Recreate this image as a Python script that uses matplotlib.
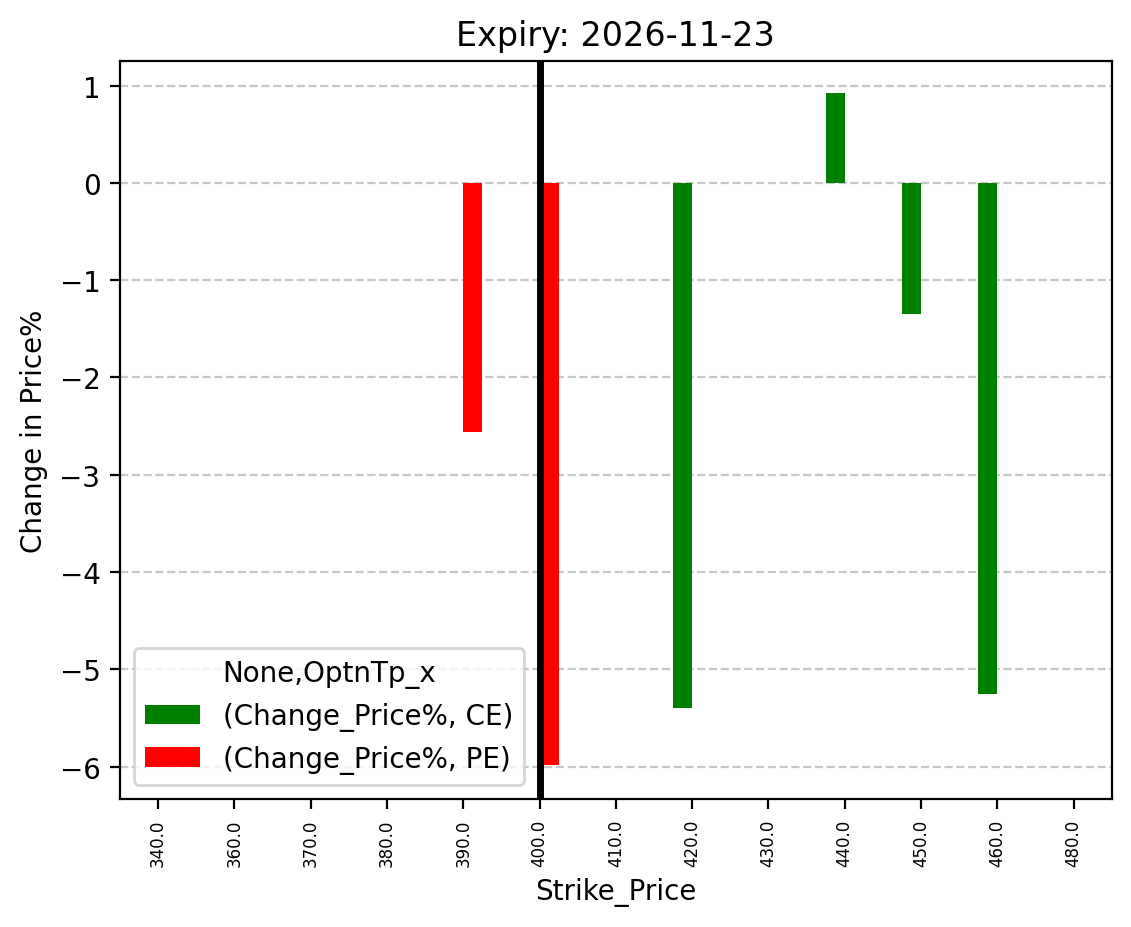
import numpy as np
import matplotlib
matplotlib.use("Agg")
import matplotlib.pyplot as plt

strikes = [340.0, 360.0, 370.0, 380.0, 390.0, 400.0, 410.0, 420.0, 430.0, 440.0, 450.0, 460.0, 480.0]
ce = [np.nan]*7 + [-5.4, np.nan, 0.92, -1.35, -5.25, np.nan]
pe = [np.nan]*4 + [-2.56, -5.98] + [np.nan]*7
spot_index = 5

fig, ax = plt.subplots(figsize=(5.655, 4.64), dpi=200)
x = np.arange(len(strikes))
w = 0.25
ax.bar(x - w/2, ce, width=w, color='green', label='(Change_Price%, CE)')
ax.bar(x + w/2, pe, width=w, color='red', label='(Change_Price%, PE)')
ax.set_xlim(-0.5, len(strikes) - 0.5)
ax.set_ylim(-6.33, 1.25)
ax.set_xticks(x)
ax.set_xticklabels([str(s) for s in strikes], rotation=90, fontsize=6)
ax.axvline(spot_index, color='black', linewidth=2.5)
ax.grid(axis='y', linestyle='--', alpha=0.7)
ax.set_axisbelow(True)
ax.set_xlabel('Strike_Price')
ax.set_ylabel('Change in Price%')
ax.set_title('Expiry: 2026-11-23')
ax.legend(title='None,OptnTp_x', loc='lower left')
fig.subplots_adjust(left=0.106, right=0.983, top=0.933, bottom=0.138)
fig.savefig('out.png', dpi=200)
